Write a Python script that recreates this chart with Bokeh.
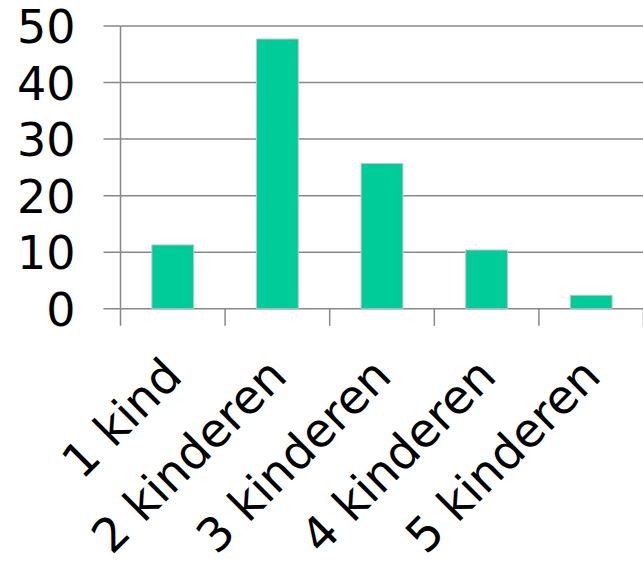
import math
from bokeh.plotting import figure
from bokeh.models import Range1d, LabelSet, ColumnDataSource
from bokeh.core.properties import value
from bokeh.embed import file_html
from bokeh.resources import INLINE

categories = ["1 kind", "2 kinderen", "3 kinderen", "4 kinderen", "5 kinderen"]
values = [11.3, 47.7, 25.7, 10.4, 2.4]
y_ticks = [0, 10, 20, 30, 40, 50]
y_tick_labels = [str(t) for t in y_ticks]

xs = [i + 0.5 for i in range(len(categories))]
boundaries = list(range(len(categories) + 1))

# Layout: the frame fills the whole figure so that the texts are not clipped.
W, H = 643, 562
plot_left, plot_right = 120.0, 643.0      # pixels of the category area
plot_top, plot_bottom = 25.5, 308.3       # pixels of value 50 and 0
px_per_x = (plot_right - plot_left) / len(categories)
px_per_y = (plot_bottom - plot_top) / y_ticks[-1]
x_lo = -plot_left / px_per_x
x_hi = len(categories) + (W - plot_right) / px_per_x
y_hi = y_ticks[-1] + plot_top / px_per_y
y_lo = -(H - plot_bottom) / px_per_y

p = figure(width=W, height=H, output_backend="svg", toolbar_location=None,
           x_range=Range1d(x_lo, x_hi), y_range=Range1d(y_lo, y_hi),
           min_border=0)
p.outline_line_color = None
p.background_fill_color = "white"
p.axis.visible = False
p.grid.visible = False

font = "DejaVu Sans"
grid_color = "#888888"
lw = 1.5
n_t = len(y_ticks)

# horizontal grid lines (to the right) and value ticks (to the left)
p.ray(x=[boundaries[0]] * n_t, y=y_ticks, length=0, angle=0,
      line_color=grid_color, line_width=lw)
p.ray(x=[boundaries[0]] * n_t, y=y_ticks, length=17, length_units="screen",
      angle=math.pi, line_color=grid_color, line_width=lw)
# value axis line
p.segment(x0=[boundaries[0]], y0=[y_ticks[0]], x1=[boundaries[0]], y1=[y_ticks[-1]],
          line_color=grid_color, line_width=lw)
# category boundary tick marks below the category axis
p.ray(x=boundaries, y=[y_ticks[0]] * len(boundaries), length=17,
      length_units="screen", angle=-math.pi / 2, line_color=grid_color,
      line_width=lw)

p.vbar(x=xs, top=values, width=0.4, bottom=0, fill_color="#00CC99",
       line_color="#c4c4c4", line_width=1)

ysrc = ColumnDataSource(dict(x=[boundaries[0]] * n_t, y=y_ticks, text=y_tick_labels))
p.add_layout(LabelSet(x="x", y="y", text="text", source=ysrc,
                      text_align="right", text_baseline="middle",
                      x_offset=-45, y_offset=0,
                      text_font=value(font), text_font_size=value("46px"),
                      text_color="black"))

xsrc = ColumnDataSource(dict(x=xs, y=[0] * len(xs), text=categories))
p.add_layout(LabelSet(x="x", y="y", text="text", source=xsrc, angle=math.pi / 4,
                      text_align="right", text_baseline="middle",
                      x_offset=0, y_offset=-58,
                      text_font=value(font), text_font_size=value("47px"),
                      text_color="black"))

open("out.html", "w").write(file_html(p, INLINE))
